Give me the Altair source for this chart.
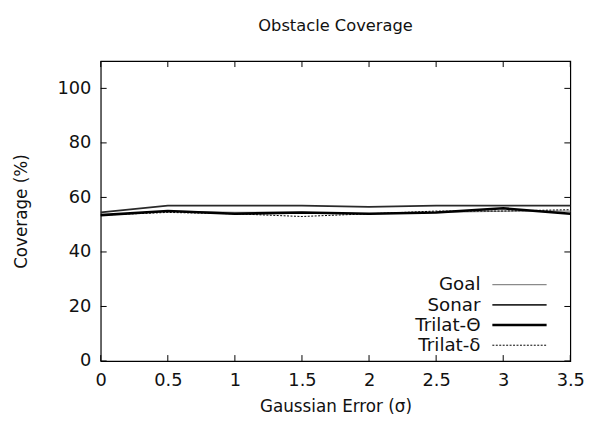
import altair as alt
import pandas as pd

# Data
sigma = [0, 0.5, 1, 1.5, 2, 2.5, 3, 3.5]
goal = [53.5, 55.0, 54.5, 54.5, 54.0, 54.5, 55.0, 55.0]
sonar = [54.5, 57.0, 57.0, 57.0, 56.5, 57.0, 57.0, 57.0]
trilat_theta = [53.5, 55.0, 54.0, 54.5, 54.0, 54.5, 56.0, 54.0]
trilat_delta = [53.5, 54.5, 54.0, 53.0, 54.0, 55.0, 55.0, 55.5]

series_names = ["Goal", "Sonar", "Trilat-Θ", "Trilat-δ"]
series_values = [goal, sonar, trilat_theta, trilat_delta]

x_ticks = [0, 0.5, 1, 1.5, 2, 2.5, 3, 3.5]
y_ticks = [0, 20, 40, 60, 80, 100]

FONT = "DejaVu Sans"
W, H = 476, 304

styles = {
    "Goal": dict(color="#8a8a8a", strokeWidth=1.2),
    "Sonar": dict(color="#2a2a2a", strokeWidth=1.8),
    "Trilat-Θ": dict(color="#000000", strokeWidth=2.6),
    "Trilat-δ": dict(color="#000000", strokeWidth=1.0, strokeDash=[2, 1.5]),
}

rows = []
for name, vals in zip(series_names, series_values):
    for s, v in zip(sigma, vals):
        rows.append({"sigma": s, "coverage": v, "series": name})
df = pd.DataFrame(rows)

xscale = alt.Scale(domain=[0, 3.5], nice=False, zero=False)
yscale = alt.Scale(domain=[0, 110], nice=False)

xaxis = alt.Axis(values=x_ticks, title="Gaussian Error (σ)", ticks=False, domain=False,
                 grid=False, labelFontSize=18, titleFontSize=17, labelFont=FONT,
                 titleFont=FONT, titleFontWeight="normal", labelPadding=11,
                 titlePadding=9, labelFlush=False, labelOverlap=False,
                 labelExpr="'' + datum.value", labelColor="#111", titleColor="#111")
yaxis = alt.Axis(values=y_ticks, title="Coverage (%)", ticks=False, domain=False,
                 grid=False, labelFontSize=18, titleFontSize=17, labelFont=FONT,
                 titleFont=FONT, titleFontWeight="normal", labelPadding=10,
                 titlePadding=27, labelFlush=False, labelOverlap=False,
                 labelColor="#111", titleColor="#111")

layers = []
for name in series_names:
    sub = df[df["series"] == name]
    c = alt.Chart(sub).mark_line(**styles[name]).encode(
        x=alt.X("sigma:Q", scale=xscale, axis=xaxis),
        y=alt.Y("coverage:Q", scale=yscale, axis=yaxis),
    )
    layers.append(c)

# inside ticks (gnuplot style, mirrored)
ytdf = pd.DataFrame({"v": y_ticks})
xtdf = pd.DataFrame({"v": x_ticks})
TL = 6
layers.append(alt.Chart(ytdf).mark_rule(color="black").encode(
    y=alt.Y("v:Q", scale=yscale, axis=yaxis), x=alt.value(0), x2=alt.value(TL)))
layers.append(alt.Chart(ytdf).mark_rule(color="black").encode(
    y=alt.Y("v:Q", scale=yscale, axis=yaxis), x=alt.value(W - TL), x2=alt.value(W)))
layers.append(alt.Chart(xtdf).mark_rule(color="black").encode(
    x=alt.X("v:Q", scale=xscale, axis=xaxis), y=alt.value(H - TL), y2=alt.value(H)))
layers.append(alt.Chart(xtdf).mark_rule(color="black").encode(
    x=alt.X("v:Q", scale=xscale, axis=xaxis), y=alt.value(0), y2=alt.value(TL)))

# legend (label left of sample, gnuplot style)
leg_y = [226.5, 247, 267.5, 288]
for name, ly in zip(series_names, leg_y):
    layers.append(alt.Chart(pd.DataFrame({"s": [name]})).mark_text(
        align="right", baseline="middle", fontSize=18.5, font=FONT, color="#111"
    ).encode(text="s:N", x=alt.value(385), y=alt.value(ly)))
    layers.append(alt.Chart(pd.DataFrame({"s": [name]})).mark_rule(**styles[name]).encode(
        x=alt.value(397), x2=alt.value(452), y=alt.value(ly)))

chart = alt.layer(*layers).properties(
    width=W, height=H,
    background="white",
    title=alt.Title("Obstacle Coverage", fontSize=16.5, fontWeight="normal", font=FONT,
                    color="#111", anchor="middle", offset=27),
    padding={"left": 94, "top": 51, "right": 21, "bottom": 60},
    autosize=alt.AutoSizeParams(type="none"),
).configure_view(stroke="black", strokeWidth=1.2)

chart.save("out.html", embed_options={"renderer": "svg", "actions": False})
